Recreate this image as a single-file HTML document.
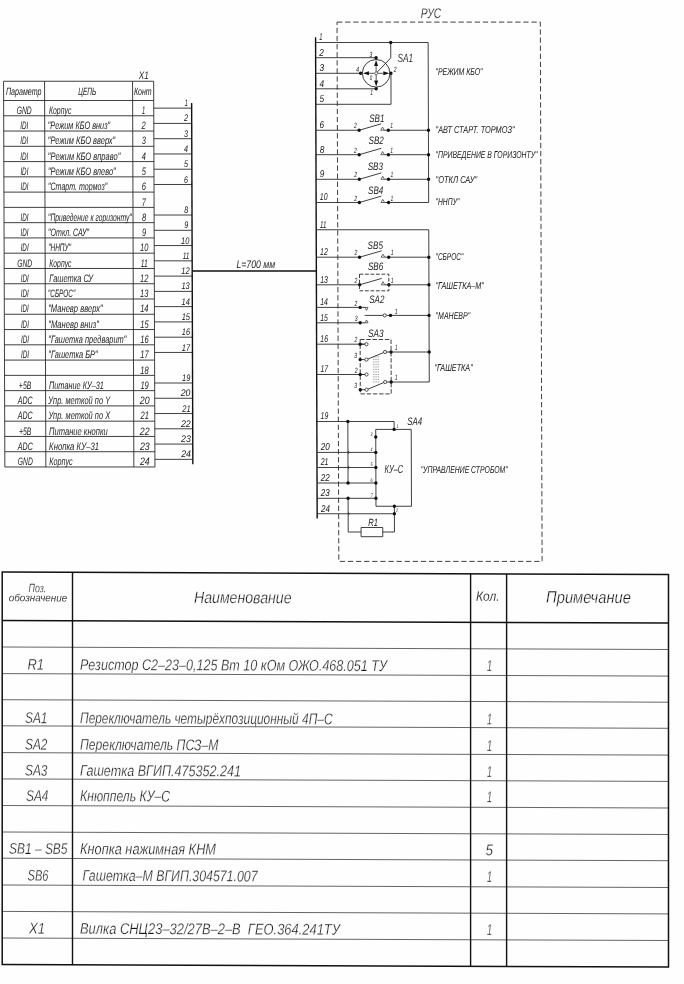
<!DOCTYPE html>
<html><head><meta charset="utf-8"><title>scheme</title>
<style>html,body{margin:0;padding:0;background:#fefefe;}svg{display:block;will-change:transform;filter:grayscale(1)}text{font-family:"Liberation Sans",sans-serif;font-style:italic;white-space:pre;stroke:#fefefe;}</style></head><body>
<svg width="684" height="984" viewBox="0 0 684 984">
<rect x="0" y="0" width="684" height="984" fill="#fefefe"/>
<g transform="skewX(0.19)">
<line x1="3.30" y1="81.25" x2="3.30" y2="466.98" stroke="#2a2a2a" stroke-width="0.9" />
<line x1="44.30" y1="81.25" x2="44.30" y2="466.98" stroke="#2a2a2a" stroke-width="0.9" />
<line x1="132.30" y1="81.25" x2="132.30" y2="466.98" stroke="#2a2a2a" stroke-width="0.9" />
<line x1="153.40" y1="81.25" x2="153.40" y2="466.98" stroke="#2a2a2a" stroke-width="0.9" />
<line x1="3.30" y1="81.25" x2="153.40" y2="81.25" stroke="#2a2a2a" stroke-width="0.9" />
<line x1="3.30" y1="100.50" x2="153.40" y2="100.50" stroke="#2a2a2a" stroke-width="0.9" />
<line x1="3.30" y1="115.77" x2="153.40" y2="115.77" stroke="#2a2a2a" stroke-width="0.9" />
<line x1="3.30" y1="131.04" x2="153.40" y2="131.04" stroke="#2a2a2a" stroke-width="0.9" />
<line x1="3.30" y1="146.31" x2="153.40" y2="146.31" stroke="#2a2a2a" stroke-width="0.9" />
<line x1="3.30" y1="161.58" x2="153.40" y2="161.58" stroke="#2a2a2a" stroke-width="0.9" />
<line x1="3.30" y1="176.85" x2="153.40" y2="176.85" stroke="#2a2a2a" stroke-width="0.9" />
<line x1="3.30" y1="192.12" x2="153.40" y2="192.12" stroke="#2a2a2a" stroke-width="0.9" />
<line x1="3.30" y1="207.39" x2="153.40" y2="207.39" stroke="#2a2a2a" stroke-width="0.9" />
<line x1="3.30" y1="222.66" x2="153.40" y2="222.66" stroke="#2a2a2a" stroke-width="0.9" />
<line x1="3.30" y1="237.93" x2="153.40" y2="237.93" stroke="#2a2a2a" stroke-width="0.9" />
<line x1="3.30" y1="253.20" x2="153.40" y2="253.20" stroke="#2a2a2a" stroke-width="0.9" />
<line x1="3.30" y1="268.47" x2="153.40" y2="268.47" stroke="#2a2a2a" stroke-width="0.9" />
<line x1="3.30" y1="283.74" x2="153.40" y2="283.74" stroke="#2a2a2a" stroke-width="0.9" />
<line x1="3.30" y1="299.01" x2="153.40" y2="299.01" stroke="#2a2a2a" stroke-width="0.9" />
<line x1="3.30" y1="314.28" x2="153.40" y2="314.28" stroke="#2a2a2a" stroke-width="0.9" />
<line x1="3.30" y1="329.55" x2="153.40" y2="329.55" stroke="#2a2a2a" stroke-width="0.9" />
<line x1="3.30" y1="344.82" x2="153.40" y2="344.82" stroke="#2a2a2a" stroke-width="0.9" />
<line x1="3.30" y1="360.09" x2="153.40" y2="360.09" stroke="#2a2a2a" stroke-width="0.9" />
<line x1="3.30" y1="375.36" x2="153.40" y2="375.36" stroke="#2a2a2a" stroke-width="0.9" />
<line x1="3.30" y1="390.63" x2="153.40" y2="390.63" stroke="#2a2a2a" stroke-width="0.9" />
<line x1="3.30" y1="405.90" x2="153.40" y2="405.90" stroke="#2a2a2a" stroke-width="0.9" />
<line x1="3.30" y1="421.17" x2="153.40" y2="421.17" stroke="#2a2a2a" stroke-width="0.9" />
<line x1="3.30" y1="436.44" x2="153.40" y2="436.44" stroke="#2a2a2a" stroke-width="0.9" />
<line x1="3.30" y1="451.71" x2="153.40" y2="451.71" stroke="#2a2a2a" stroke-width="0.9" />
<line x1="3.30" y1="466.98" x2="153.40" y2="466.98" stroke="#2a2a2a" stroke-width="0.9" />
<text x="138.50" y="79.50" font-size="11.0" text-anchor="start" fill="#161616" stroke-width="0.033" textLength="10.00" lengthAdjust="spacingAndGlyphs" >X1</text>
<text x="5.60" y="94.70" font-size="10.6" text-anchor="start" fill="#161616" stroke-width="0.011" textLength="35.60" lengthAdjust="spacingAndGlyphs" >Параметр</text>
<text x="78.00" y="94.70" font-size="10.6" text-anchor="start" fill="#161616" stroke-width="0.011" textLength="18.00" lengthAdjust="spacingAndGlyphs" >ЦЕПЬ</text>
<text x="133.60" y="94.70" font-size="10.6" text-anchor="start" fill="#161616" stroke-width="0.011" textLength="17.80" lengthAdjust="spacingAndGlyphs" >Конт</text>
<text x="23.80" y="113.97" font-size="10.8" text-anchor="middle" fill="#161616" stroke-width="0.022" textLength="15.00" lengthAdjust="spacingAndGlyphs" >GND</text>
<text x="48.60" y="113.97" font-size="10.8" text-anchor="start" fill="#161616" stroke-width="0.022" textLength="22.40" lengthAdjust="spacingAndGlyphs" >Корпус</text>
<text x="143.30" y="113.97" font-size="10.8" text-anchor="middle" fill="#161616" stroke-width="0.022" textLength="3.20" lengthAdjust="spacingAndGlyphs" >1</text>
<text x="23.80" y="129.24" font-size="10.8" text-anchor="middle" fill="#161616" stroke-width="0.022" textLength="8.00" lengthAdjust="spacingAndGlyphs" >IDI</text>
<text x="47.30" y="129.24" font-size="10.8" text-anchor="start" fill="#161616" stroke-width="0.022" textLength="62.50" lengthAdjust="spacingAndGlyphs" >"Режим КБО вниз"</text>
<text x="143.30" y="129.24" font-size="10.8" text-anchor="middle" fill="#161616" stroke-width="0.022" textLength="4.20" lengthAdjust="spacingAndGlyphs" >2</text>
<text x="23.80" y="144.51" font-size="10.8" text-anchor="middle" fill="#161616" stroke-width="0.022" textLength="8.00" lengthAdjust="spacingAndGlyphs" >IDI</text>
<text x="47.30" y="144.51" font-size="10.8" text-anchor="start" fill="#161616" stroke-width="0.022" textLength="67.50" lengthAdjust="spacingAndGlyphs" >"Режим КБО вверх"</text>
<text x="143.30" y="144.51" font-size="10.8" text-anchor="middle" fill="#161616" stroke-width="0.022" textLength="4.20" lengthAdjust="spacingAndGlyphs" >3</text>
<text x="23.80" y="159.78" font-size="10.8" text-anchor="middle" fill="#161616" stroke-width="0.022" textLength="8.00" lengthAdjust="spacingAndGlyphs" >IDI</text>
<text x="47.30" y="159.78" font-size="10.8" text-anchor="start" fill="#161616" stroke-width="0.022" textLength="72.50" lengthAdjust="spacingAndGlyphs" >"Режим КБО вправо"</text>
<text x="143.30" y="159.78" font-size="10.8" text-anchor="middle" fill="#161616" stroke-width="0.022" textLength="4.20" lengthAdjust="spacingAndGlyphs" >4</text>
<text x="23.80" y="175.05" font-size="10.8" text-anchor="middle" fill="#161616" stroke-width="0.022" textLength="8.00" lengthAdjust="spacingAndGlyphs" >IDI</text>
<text x="47.30" y="175.05" font-size="10.8" text-anchor="start" fill="#161616" stroke-width="0.022" textLength="67.90" lengthAdjust="spacingAndGlyphs" >"Режим КБО влево"</text>
<text x="143.30" y="175.05" font-size="10.8" text-anchor="middle" fill="#161616" stroke-width="0.022" textLength="4.20" lengthAdjust="spacingAndGlyphs" >5</text>
<text x="23.80" y="190.32" font-size="10.8" text-anchor="middle" fill="#161616" stroke-width="0.022" textLength="8.00" lengthAdjust="spacingAndGlyphs" >IDI</text>
<text x="47.30" y="190.32" font-size="10.8" text-anchor="start" fill="#161616" stroke-width="0.022" textLength="59.30" lengthAdjust="spacingAndGlyphs" >"Старт. тормоз"</text>
<text x="143.30" y="190.32" font-size="10.8" text-anchor="middle" fill="#161616" stroke-width="0.022" textLength="4.20" lengthAdjust="spacingAndGlyphs" >6</text>
<text x="143.30" y="205.59" font-size="10.8" text-anchor="middle" fill="#161616" stroke-width="0.022" textLength="4.20" lengthAdjust="spacingAndGlyphs" >7</text>
<text x="23.80" y="220.86" font-size="10.8" text-anchor="middle" fill="#161616" stroke-width="0.022" textLength="8.00" lengthAdjust="spacingAndGlyphs" >IDI</text>
<text x="47.30" y="220.86" font-size="10.8" text-anchor="start" fill="#161616" stroke-width="0.022" textLength="83.70" lengthAdjust="spacingAndGlyphs" >"Приведение к горизонту"</text>
<text x="143.30" y="220.86" font-size="10.8" text-anchor="middle" fill="#161616" stroke-width="0.022" textLength="4.20" lengthAdjust="spacingAndGlyphs" >8</text>
<text x="23.80" y="236.13" font-size="10.8" text-anchor="middle" fill="#161616" stroke-width="0.022" textLength="8.00" lengthAdjust="spacingAndGlyphs" >IDI</text>
<text x="47.30" y="236.13" font-size="10.8" text-anchor="start" fill="#161616" stroke-width="0.022" textLength="40.90" lengthAdjust="spacingAndGlyphs" >"Откл. САУ"</text>
<text x="143.30" y="236.13" font-size="10.8" text-anchor="middle" fill="#161616" stroke-width="0.022" textLength="4.20" lengthAdjust="spacingAndGlyphs" >9</text>
<text x="23.80" y="251.40" font-size="10.8" text-anchor="middle" fill="#161616" stroke-width="0.022" textLength="8.00" lengthAdjust="spacingAndGlyphs" >IDI</text>
<text x="47.30" y="251.40" font-size="10.8" text-anchor="start" fill="#161616" stroke-width="0.022" textLength="22.90" lengthAdjust="spacingAndGlyphs" >"ННПУ"</text>
<text x="143.30" y="251.40" font-size="10.8" text-anchor="middle" fill="#161616" stroke-width="0.022" textLength="8.40" lengthAdjust="spacingAndGlyphs" >10</text>
<text x="23.80" y="266.67" font-size="10.8" text-anchor="middle" fill="#161616" stroke-width="0.022" textLength="15.00" lengthAdjust="spacingAndGlyphs" >GND</text>
<text x="48.40" y="266.67" font-size="10.8" text-anchor="start" fill="#161616" stroke-width="0.022" textLength="22.20" lengthAdjust="spacingAndGlyphs" >Корпус</text>
<text x="143.30" y="266.67" font-size="10.8" text-anchor="middle" fill="#161616" stroke-width="0.022" textLength="7.00" lengthAdjust="spacingAndGlyphs" >11</text>
<text x="23.80" y="281.94" font-size="10.8" text-anchor="middle" fill="#161616" stroke-width="0.022" textLength="8.00" lengthAdjust="spacingAndGlyphs" >IDI</text>
<text x="48.40" y="281.94" font-size="10.8" text-anchor="start" fill="#161616" stroke-width="0.022" textLength="43.80" lengthAdjust="spacingAndGlyphs" >Гашетка СУ</text>
<text x="143.30" y="281.94" font-size="10.8" text-anchor="middle" fill="#161616" stroke-width="0.022" textLength="8.40" lengthAdjust="spacingAndGlyphs" >12</text>
<text x="23.80" y="297.21" font-size="10.8" text-anchor="middle" fill="#161616" stroke-width="0.022" textLength="8.00" lengthAdjust="spacingAndGlyphs" >IDI</text>
<text x="47.00" y="297.21" font-size="10.8" text-anchor="start" fill="#161616" stroke-width="0.022" textLength="27.20" lengthAdjust="spacingAndGlyphs" >"СБРОС"</text>
<text x="143.30" y="297.21" font-size="10.8" text-anchor="middle" fill="#161616" stroke-width="0.022" textLength="8.40" lengthAdjust="spacingAndGlyphs" >13</text>
<text x="23.80" y="312.48" font-size="10.8" text-anchor="middle" fill="#161616" stroke-width="0.022" textLength="8.00" lengthAdjust="spacingAndGlyphs" >IDI</text>
<text x="47.10" y="312.48" font-size="10.8" text-anchor="start" fill="#161616" stroke-width="0.022" textLength="54.50" lengthAdjust="spacingAndGlyphs" >"Маневр вверх"</text>
<text x="143.30" y="312.48" font-size="10.8" text-anchor="middle" fill="#161616" stroke-width="0.022" textLength="8.40" lengthAdjust="spacingAndGlyphs" >14</text>
<text x="23.80" y="327.75" font-size="10.8" text-anchor="middle" fill="#161616" stroke-width="0.022" textLength="8.00" lengthAdjust="spacingAndGlyphs" >IDI</text>
<text x="47.10" y="327.75" font-size="10.8" text-anchor="start" fill="#161616" stroke-width="0.022" textLength="50.70" lengthAdjust="spacingAndGlyphs" >"Маневр вниз"</text>
<text x="143.30" y="327.75" font-size="10.8" text-anchor="middle" fill="#161616" stroke-width="0.022" textLength="8.40" lengthAdjust="spacingAndGlyphs" >15</text>
<text x="23.80" y="343.02" font-size="10.8" text-anchor="middle" fill="#161616" stroke-width="0.022" textLength="8.00" lengthAdjust="spacingAndGlyphs" >IDI</text>
<text x="47.10" y="343.02" font-size="10.8" text-anchor="start" fill="#161616" stroke-width="0.022" textLength="78.20" lengthAdjust="spacingAndGlyphs" >"Гашетка предварит"</text>
<text x="143.30" y="343.02" font-size="10.8" text-anchor="middle" fill="#161616" stroke-width="0.022" textLength="8.40" lengthAdjust="spacingAndGlyphs" >16</text>
<text x="23.80" y="358.29" font-size="10.8" text-anchor="middle" fill="#161616" stroke-width="0.022" textLength="8.00" lengthAdjust="spacingAndGlyphs" >IDI</text>
<text x="47.10" y="358.29" font-size="10.8" text-anchor="start" fill="#161616" stroke-width="0.022" textLength="49.40" lengthAdjust="spacingAndGlyphs" >"Гашетка БР"</text>
<text x="143.30" y="358.29" font-size="10.8" text-anchor="middle" fill="#161616" stroke-width="0.022" textLength="8.40" lengthAdjust="spacingAndGlyphs" >17</text>
<text x="143.30" y="373.56" font-size="10.8" text-anchor="middle" fill="#161616" stroke-width="0.022" textLength="8.40" lengthAdjust="spacingAndGlyphs" >18</text>
<text x="23.80" y="388.83" font-size="10.8" text-anchor="middle" fill="#161616" stroke-width="0.022" textLength="12.50" lengthAdjust="spacingAndGlyphs" >+5В</text>
<text x="47.70" y="388.83" font-size="10.8" text-anchor="start" fill="#161616" stroke-width="0.022" textLength="54.90" lengthAdjust="spacingAndGlyphs" >Питание КУ–31</text>
<text x="143.30" y="388.83" font-size="10.8" text-anchor="middle" fill="#161616" stroke-width="0.022" textLength="8.40" lengthAdjust="spacingAndGlyphs" >19</text>
<text x="23.80" y="404.10" font-size="10.8" text-anchor="middle" fill="#161616" stroke-width="0.022" textLength="15.00" lengthAdjust="spacingAndGlyphs" >ADC</text>
<text x="47.00" y="404.10" font-size="10.8" text-anchor="start" fill="#161616" stroke-width="0.022" textLength="61.80" lengthAdjust="spacingAndGlyphs" >Упр. меткой по Y</text>
<text x="143.30" y="404.10" font-size="10.8" text-anchor="middle" fill="#161616" stroke-width="0.022" textLength="9.80" lengthAdjust="spacingAndGlyphs" >20</text>
<text x="23.80" y="419.37" font-size="10.8" text-anchor="middle" fill="#161616" stroke-width="0.022" textLength="15.00" lengthAdjust="spacingAndGlyphs" >ADC</text>
<text x="47.00" y="419.37" font-size="10.8" text-anchor="start" fill="#161616" stroke-width="0.022" textLength="61.80" lengthAdjust="spacingAndGlyphs" >Упр. меткой по Х</text>
<text x="143.30" y="419.37" font-size="10.8" text-anchor="middle" fill="#161616" stroke-width="0.022" textLength="8.40" lengthAdjust="spacingAndGlyphs" >21</text>
<text x="23.80" y="434.64" font-size="10.8" text-anchor="middle" fill="#161616" stroke-width="0.022" textLength="12.50" lengthAdjust="spacingAndGlyphs" >+5В</text>
<text x="47.60" y="434.64" font-size="10.8" text-anchor="start" fill="#161616" stroke-width="0.022" textLength="58.70" lengthAdjust="spacingAndGlyphs" >Питание кнопки</text>
<text x="143.30" y="434.64" font-size="10.8" text-anchor="middle" fill="#161616" stroke-width="0.022" textLength="9.80" lengthAdjust="spacingAndGlyphs" >22</text>
<text x="23.80" y="449.91" font-size="10.8" text-anchor="middle" fill="#161616" stroke-width="0.022" textLength="15.00" lengthAdjust="spacingAndGlyphs" >ADC</text>
<text x="47.60" y="449.91" font-size="10.8" text-anchor="start" fill="#161616" stroke-width="0.022" textLength="49.90" lengthAdjust="spacingAndGlyphs" >Кнопка КУ–31</text>
<text x="143.30" y="449.91" font-size="10.8" text-anchor="middle" fill="#161616" stroke-width="0.022" textLength="9.80" lengthAdjust="spacingAndGlyphs" >23</text>
<text x="23.80" y="465.18" font-size="10.8" text-anchor="middle" fill="#161616" stroke-width="0.022" textLength="15.00" lengthAdjust="spacingAndGlyphs" >GND</text>
<text x="47.60" y="465.18" font-size="10.8" text-anchor="start" fill="#161616" stroke-width="0.022" textLength="23.60" lengthAdjust="spacingAndGlyphs" >Корпус</text>
<text x="143.30" y="465.18" font-size="10.8" text-anchor="middle" fill="#161616" stroke-width="0.022" textLength="9.80" lengthAdjust="spacingAndGlyphs" >24</text>
<line x1="153.40" y1="108.13" x2="191.30" y2="108.13" stroke="#2a2a2a" stroke-width="0.9" />
<text x="187.50" y="106.23" font-size="9.6" text-anchor="end" fill="#161616" stroke-width="0.000" textLength="3.00" lengthAdjust="spacingAndGlyphs" >1</text>
<line x1="153.40" y1="123.40" x2="191.30" y2="123.40" stroke="#2a2a2a" stroke-width="0.9" />
<text x="187.50" y="121.50" font-size="9.6" text-anchor="end" fill="#161616" stroke-width="0.000" textLength="4.00" lengthAdjust="spacingAndGlyphs" >2</text>
<line x1="153.40" y1="138.68" x2="191.30" y2="138.68" stroke="#2a2a2a" stroke-width="0.9" />
<text x="187.50" y="136.78" font-size="9.6" text-anchor="end" fill="#161616" stroke-width="0.000" textLength="4.00" lengthAdjust="spacingAndGlyphs" >3</text>
<line x1="153.40" y1="153.94" x2="191.30" y2="153.94" stroke="#2a2a2a" stroke-width="0.9" />
<text x="187.50" y="152.04" font-size="9.6" text-anchor="end" fill="#161616" stroke-width="0.000" textLength="4.00" lengthAdjust="spacingAndGlyphs" >4</text>
<line x1="153.40" y1="169.22" x2="191.30" y2="169.22" stroke="#2a2a2a" stroke-width="0.9" />
<text x="187.50" y="167.31" font-size="9.6" text-anchor="end" fill="#161616" stroke-width="0.000" textLength="4.00" lengthAdjust="spacingAndGlyphs" >5</text>
<line x1="153.40" y1="184.49" x2="191.30" y2="184.49" stroke="#2a2a2a" stroke-width="0.9" />
<text x="187.50" y="182.59" font-size="9.6" text-anchor="end" fill="#161616" stroke-width="0.000" textLength="4.00" lengthAdjust="spacingAndGlyphs" >6</text>
<line x1="153.40" y1="215.03" x2="191.30" y2="215.03" stroke="#2a2a2a" stroke-width="0.9" />
<text x="187.50" y="213.12" font-size="9.6" text-anchor="end" fill="#161616" stroke-width="0.000" textLength="4.00" lengthAdjust="spacingAndGlyphs" >8</text>
<line x1="153.40" y1="230.30" x2="191.30" y2="230.30" stroke="#2a2a2a" stroke-width="0.9" />
<text x="187.50" y="228.40" font-size="9.6" text-anchor="end" fill="#161616" stroke-width="0.000" textLength="4.00" lengthAdjust="spacingAndGlyphs" >9</text>
<line x1="153.40" y1="245.56" x2="191.30" y2="245.56" stroke="#2a2a2a" stroke-width="0.9" />
<text x="188.58" y="243.66" font-size="9.6" text-anchor="end" fill="#161616" stroke-width="0.000" textLength="8.30" lengthAdjust="spacingAndGlyphs" >10</text>
<line x1="153.40" y1="260.84" x2="191.30" y2="260.84" stroke="#2a2a2a" stroke-width="0.9" />
<text x="188.64" y="258.94" font-size="9.6" text-anchor="end" fill="#161616" stroke-width="0.000" textLength="6.80" lengthAdjust="spacingAndGlyphs" >11</text>
<line x1="153.40" y1="276.11" x2="191.30" y2="276.11" stroke="#2a2a2a" stroke-width="0.9" />
<text x="188.70" y="274.21" font-size="9.6" text-anchor="end" fill="#161616" stroke-width="0.000" textLength="8.30" lengthAdjust="spacingAndGlyphs" >12</text>
<line x1="153.40" y1="291.38" x2="191.30" y2="291.38" stroke="#2a2a2a" stroke-width="0.9" />
<text x="188.77" y="289.48" font-size="9.6" text-anchor="end" fill="#161616" stroke-width="0.000" textLength="8.30" lengthAdjust="spacingAndGlyphs" >13</text>
<line x1="153.40" y1="306.64" x2="191.30" y2="306.64" stroke="#2a2a2a" stroke-width="0.9" />
<text x="188.83" y="304.75" font-size="9.6" text-anchor="end" fill="#161616" stroke-width="0.000" textLength="8.30" lengthAdjust="spacingAndGlyphs" >14</text>
<line x1="153.40" y1="321.91" x2="191.30" y2="321.91" stroke="#2a2a2a" stroke-width="0.9" />
<text x="188.89" y="320.01" font-size="9.6" text-anchor="end" fill="#161616" stroke-width="0.000" textLength="8.30" lengthAdjust="spacingAndGlyphs" >15</text>
<line x1="153.40" y1="337.19" x2="191.30" y2="337.19" stroke="#2a2a2a" stroke-width="0.9" />
<text x="188.95" y="335.29" font-size="9.6" text-anchor="end" fill="#161616" stroke-width="0.000" textLength="8.30" lengthAdjust="spacingAndGlyphs" >16</text>
<line x1="153.40" y1="352.45" x2="191.30" y2="352.45" stroke="#2a2a2a" stroke-width="0.9" />
<text x="189.01" y="350.56" font-size="9.6" text-anchor="end" fill="#161616" stroke-width="0.000" textLength="8.30" lengthAdjust="spacingAndGlyphs" >17</text>
<line x1="153.40" y1="383.00" x2="191.30" y2="383.00" stroke="#2a2a2a" stroke-width="0.9" />
<text x="189.13" y="381.10" font-size="9.6" text-anchor="end" fill="#161616" stroke-width="0.000" textLength="8.30" lengthAdjust="spacingAndGlyphs" >19</text>
<line x1="153.40" y1="398.26" x2="191.30" y2="398.26" stroke="#2a2a2a" stroke-width="0.9" />
<text x="189.19" y="396.37" font-size="9.6" text-anchor="end" fill="#161616" stroke-width="0.000" textLength="9.80" lengthAdjust="spacingAndGlyphs" >20</text>
<line x1="153.40" y1="413.54" x2="191.30" y2="413.54" stroke="#2a2a2a" stroke-width="0.9" />
<text x="189.25" y="411.64" font-size="9.6" text-anchor="end" fill="#161616" stroke-width="0.000" textLength="8.30" lengthAdjust="spacingAndGlyphs" >21</text>
<line x1="153.40" y1="428.81" x2="191.30" y2="428.81" stroke="#2a2a2a" stroke-width="0.9" />
<text x="189.32" y="426.91" font-size="9.6" text-anchor="end" fill="#161616" stroke-width="0.000" textLength="9.80" lengthAdjust="spacingAndGlyphs" >22</text>
<line x1="153.40" y1="444.07" x2="191.30" y2="444.07" stroke="#2a2a2a" stroke-width="0.9" />
<text x="189.38" y="442.18" font-size="9.6" text-anchor="end" fill="#161616" stroke-width="0.000" textLength="9.80" lengthAdjust="spacingAndGlyphs" >23</text>
<line x1="153.40" y1="459.35" x2="191.30" y2="459.35" stroke="#2a2a2a" stroke-width="0.9" />
<text x="189.44" y="457.45" font-size="9.6" text-anchor="end" fill="#161616" stroke-width="0.000" textLength="9.80" lengthAdjust="spacingAndGlyphs" >24</text>
<line x1="191.30" y1="103.00" x2="191.30" y2="464.30" stroke="#111" stroke-width="1.4" />
<line x1="191.30" y1="271.00" x2="315.45" y2="271.00" stroke="#111" stroke-width="1.4" />
<text x="235.50" y="268.30" font-size="11.0" text-anchor="start" fill="#161616" stroke-width="0.033" textLength="38.90" lengthAdjust="spacingAndGlyphs" >L=700 мм</text>
<line x1="315.45" y1="37.30" x2="315.45" y2="518.60" stroke="#111" stroke-width="1.4" />
<rect x="336.95" y="22.1" width="203.30" height="539.30" fill="none" stroke="#2a2a2a" stroke-width="0.9" stroke-dasharray="5.3 2.8"/>
<text x="420.80" y="18.20" font-size="14.0" text-anchor="start" fill="#161616" stroke-width="0.198" textLength="20.40" lengthAdjust="spacingAndGlyphs" >РУС</text>
<text x="319.20" y="40.40" font-size="10.0" text-anchor="start" fill="#161616" stroke-width="0.000" textLength="3.20" lengthAdjust="spacingAndGlyphs" >1</text>
<text x="319.20" y="55.60" font-size="10.0" text-anchor="start" fill="#161616" stroke-width="0.000" textLength="4.60" lengthAdjust="spacingAndGlyphs" >2</text>
<text x="319.20" y="71.20" font-size="10.0" text-anchor="start" fill="#161616" stroke-width="0.000" textLength="4.60" lengthAdjust="spacingAndGlyphs" >3</text>
<text x="319.20" y="86.70" font-size="10.0" text-anchor="start" fill="#161616" stroke-width="0.000" textLength="4.60" lengthAdjust="spacingAndGlyphs" >4</text>
<text x="319.20" y="102.20" font-size="10.0" text-anchor="start" fill="#161616" stroke-width="0.000" textLength="4.60" lengthAdjust="spacingAndGlyphs" >5</text>
<text x="319.20" y="128.15" font-size="10.0" text-anchor="start" fill="#161616" stroke-width="0.000" textLength="4.60" lengthAdjust="spacingAndGlyphs" >6</text>
<text x="319.20" y="152.60" font-size="10.0" text-anchor="start" fill="#161616" stroke-width="0.000" textLength="4.60" lengthAdjust="spacingAndGlyphs" >8</text>
<text x="319.20" y="177.20" font-size="10.0" text-anchor="start" fill="#161616" stroke-width="0.000" textLength="4.60" lengthAdjust="spacingAndGlyphs" >9</text>
<text x="319.20" y="200.40" font-size="10.0" text-anchor="start" fill="#161616" stroke-width="0.000" textLength="7.70" lengthAdjust="spacingAndGlyphs" >10</text>
<text x="319.20" y="227.65" font-size="10.0" text-anchor="start" fill="#161616" stroke-width="0.000" textLength="6.40" lengthAdjust="spacingAndGlyphs" >11</text>
<text x="319.20" y="255.10" font-size="10.0" text-anchor="start" fill="#161616" stroke-width="0.000" textLength="7.70" lengthAdjust="spacingAndGlyphs" >12</text>
<text x="319.20" y="282.70" font-size="10.0" text-anchor="start" fill="#161616" stroke-width="0.000" textLength="7.70" lengthAdjust="spacingAndGlyphs" >13</text>
<text x="319.20" y="305.30" font-size="10.0" text-anchor="start" fill="#161616" stroke-width="0.000" textLength="7.70" lengthAdjust="spacingAndGlyphs" >14</text>
<text x="319.20" y="320.70" font-size="10.0" text-anchor="start" fill="#161616" stroke-width="0.000" textLength="7.70" lengthAdjust="spacingAndGlyphs" >15</text>
<text x="319.20" y="342.10" font-size="10.0" text-anchor="start" fill="#161616" stroke-width="0.000" textLength="7.70" lengthAdjust="spacingAndGlyphs" >16</text>
<text x="319.20" y="372.40" font-size="10.0" text-anchor="start" fill="#161616" stroke-width="0.000" textLength="7.70" lengthAdjust="spacingAndGlyphs" >17</text>
<text x="319.20" y="419.40" font-size="10.0" text-anchor="start" fill="#161616" stroke-width="0.000" textLength="7.70" lengthAdjust="spacingAndGlyphs" >19</text>
<text x="319.20" y="450.30" font-size="10.0" text-anchor="start" fill="#161616" stroke-width="0.000" textLength="9.00" lengthAdjust="spacingAndGlyphs" >20</text>
<text x="319.20" y="465.40" font-size="10.0" text-anchor="start" fill="#161616" stroke-width="0.000" textLength="7.70" lengthAdjust="spacingAndGlyphs" >21</text>
<text x="319.20" y="480.90" font-size="10.0" text-anchor="start" fill="#161616" stroke-width="0.000" textLength="9.00" lengthAdjust="spacingAndGlyphs" >22</text>
<text x="319.20" y="496.20" font-size="10.0" text-anchor="start" fill="#161616" stroke-width="0.000" textLength="9.00" lengthAdjust="spacingAndGlyphs" >23</text>
<text x="319.20" y="511.65" font-size="10.0" text-anchor="start" fill="#161616" stroke-width="0.000" textLength="9.00" lengthAdjust="spacingAndGlyphs" >24</text>
<line x1="315.45" y1="42.50" x2="428.00" y2="42.50" stroke="#2a2a2a" stroke-width="0.9" />
<line x1="428.00" y1="42.50" x2="428.00" y2="202.50" stroke="#2a2a2a" stroke-width="0.9" />
<line x1="315.45" y1="57.70" x2="375.90" y2="57.70" stroke="#2a2a2a" stroke-width="0.9" />
<line x1="315.45" y1="73.30" x2="360.40" y2="73.30" stroke="#2a2a2a" stroke-width="0.9" />
<line x1="315.45" y1="88.80" x2="375.90" y2="88.80" stroke="#2a2a2a" stroke-width="0.9" />
<polyline points="315.45,104.30 390.70,104.30 390.70,73.30" fill="none" stroke="#2a2a2a" stroke-width="0.9" />
<circle cx="375.9" cy="73.3" r="13.8" fill="none" stroke="#2a2a2a" stroke-width="0.9"/>
<polyline points="390.60,42.50 390.60,57.80 375.90,73.30" fill="none" stroke="#2a2a2a" stroke-width="0.9" />
<line x1="375.90" y1="71.80" x2="375.90" y2="66.10" stroke="#2a2a2a" stroke-width="0.8" />
<polygon points="375.90,60.10 377.90,66.10 373.90,66.10" fill="#111"/>
<line x1="375.90" y1="74.80" x2="375.90" y2="80.50" stroke="#2a2a2a" stroke-width="0.8" />
<polygon points="375.90,86.50 373.90,80.50 377.90,80.50" fill="#111"/>
<line x1="374.40" y1="73.30" x2="368.70" y2="73.30" stroke="#2a2a2a" stroke-width="0.8" />
<polygon points="362.70,73.30 368.70,71.30 368.70,75.30" fill="#111"/>
<line x1="377.40" y1="73.30" x2="383.10" y2="73.30" stroke="#2a2a2a" stroke-width="0.8" />
<polygon points="389.10,73.30 383.10,75.30 383.10,71.30" fill="#111"/>
<circle cx="375.90" cy="73.30" r="1.5" fill="#fff" stroke="#2a2a2a" stroke-width="0.7"/>
<circle cx="390.60" cy="42.50" r="1.7" fill="#111"/>
<circle cx="375.90" cy="57.70" r="1.7" fill="#111"/>
<circle cx="360.40" cy="73.30" r="1.7" fill="#111"/>
<circle cx="390.70" cy="73.30" r="1.7" fill="#111"/>
<circle cx="375.90" cy="88.80" r="1.7" fill="#111"/>
<text x="369.40" y="57.20" font-size="7.6" text-anchor="start" fill="#161616" stroke-width="0.000" textLength="2.80" lengthAdjust="spacingAndGlyphs" >3</text>
<text x="356.00" y="71.80" font-size="7.6" text-anchor="start" fill="#161616" stroke-width="0.000" textLength="2.80" lengthAdjust="spacingAndGlyphs" >4</text>
<text x="393.60" y="72.40" font-size="7.6" text-anchor="start" fill="#161616" stroke-width="0.000" textLength="2.80" lengthAdjust="spacingAndGlyphs" >2</text>
<text x="370.00" y="95.00" font-size="7.6" text-anchor="start" fill="#161616" stroke-width="0.000" textLength="2.80" lengthAdjust="spacingAndGlyphs" >1</text>
<text x="369.60" y="79.60" font-size="6.8" text-anchor="start" fill="#161616" stroke-width="0.000" textLength="2.50" lengthAdjust="spacingAndGlyphs" >0</text>
<text x="397.20" y="61.70" font-size="11.9" text-anchor="start" fill="#161616" stroke-width="0.083" textLength="15.70" lengthAdjust="spacingAndGlyphs" >SA1</text>
<line x1="315.45" y1="130.25" x2="358.70" y2="130.25" stroke="#2a2a2a" stroke-width="0.9" />
<line x1="358.70" y1="130.25" x2="380.80" y2="123.85" stroke="#2a2a2a" stroke-width="0.9" />
<polyline points="380.30,130.25 382.10,127.15 383.90,130.25 380.30,130.25" fill="none" stroke="#2a2a2a" stroke-width="0.7" />
<line x1="383.90" y1="130.25" x2="428.00" y2="130.25" stroke="#2a2a2a" stroke-width="0.9" />
<circle cx="358.70" cy="130.25" r="1.7" fill="#111"/>
<circle cx="387.90" cy="130.25" r="1.7" fill="#111"/>
<circle cx="428.00" cy="130.25" r="1.7" fill="#111"/>
<text x="353.60" y="128.45" font-size="7.6" text-anchor="start" fill="#161616" stroke-width="0.000" textLength="2.80" lengthAdjust="spacingAndGlyphs" >2</text>
<text x="389.80" y="128.45" font-size="7.6" text-anchor="start" fill="#161616" stroke-width="0.000" textLength="2.80" lengthAdjust="spacingAndGlyphs" >1</text>
<text x="368.80" y="121.90" font-size="10.9" text-anchor="start" fill="#161616" stroke-width="0.028" textLength="15.30" lengthAdjust="spacingAndGlyphs" >SB1</text>
<line x1="315.45" y1="154.70" x2="358.70" y2="154.70" stroke="#2a2a2a" stroke-width="0.9" />
<line x1="358.70" y1="154.70" x2="380.80" y2="148.30" stroke="#2a2a2a" stroke-width="0.9" />
<polyline points="380.30,154.70 382.10,151.60 383.90,154.70 380.30,154.70" fill="none" stroke="#2a2a2a" stroke-width="0.7" />
<line x1="383.90" y1="154.70" x2="428.00" y2="154.70" stroke="#2a2a2a" stroke-width="0.9" />
<circle cx="358.70" cy="154.70" r="1.7" fill="#111"/>
<circle cx="387.90" cy="154.70" r="1.7" fill="#111"/>
<circle cx="428.00" cy="154.70" r="1.7" fill="#111"/>
<text x="353.60" y="152.90" font-size="7.6" text-anchor="start" fill="#161616" stroke-width="0.000" textLength="2.80" lengthAdjust="spacingAndGlyphs" >2</text>
<text x="389.80" y="152.90" font-size="7.6" text-anchor="start" fill="#161616" stroke-width="0.000" textLength="2.80" lengthAdjust="spacingAndGlyphs" >1</text>
<text x="368.10" y="144.50" font-size="10.9" text-anchor="start" fill="#161616" stroke-width="0.028" textLength="15.30" lengthAdjust="spacingAndGlyphs" >SB2</text>
<line x1="315.45" y1="179.30" x2="358.70" y2="179.30" stroke="#2a2a2a" stroke-width="0.9" />
<line x1="358.70" y1="179.30" x2="380.80" y2="172.90" stroke="#2a2a2a" stroke-width="0.9" />
<polyline points="380.30,179.30 382.10,176.20 383.90,179.30 380.30,179.30" fill="none" stroke="#2a2a2a" stroke-width="0.7" />
<line x1="383.90" y1="179.30" x2="428.00" y2="179.30" stroke="#2a2a2a" stroke-width="0.9" />
<circle cx="358.70" cy="179.30" r="1.7" fill="#111"/>
<circle cx="387.90" cy="179.30" r="1.7" fill="#111"/>
<circle cx="428.00" cy="179.30" r="1.7" fill="#111"/>
<text x="353.60" y="177.50" font-size="7.6" text-anchor="start" fill="#161616" stroke-width="0.000" textLength="2.80" lengthAdjust="spacingAndGlyphs" >2</text>
<text x="389.80" y="177.50" font-size="7.6" text-anchor="start" fill="#161616" stroke-width="0.000" textLength="2.80" lengthAdjust="spacingAndGlyphs" >1</text>
<text x="367.10" y="170.10" font-size="10.9" text-anchor="start" fill="#161616" stroke-width="0.028" textLength="15.30" lengthAdjust="spacingAndGlyphs" >SB3</text>
<line x1="315.45" y1="202.50" x2="358.70" y2="202.50" stroke="#2a2a2a" stroke-width="0.9" />
<line x1="358.70" y1="202.50" x2="380.80" y2="196.10" stroke="#2a2a2a" stroke-width="0.9" />
<polyline points="380.30,202.50 382.10,199.40 383.90,202.50 380.30,202.50" fill="none" stroke="#2a2a2a" stroke-width="0.7" />
<line x1="383.90" y1="202.50" x2="428.00" y2="202.50" stroke="#2a2a2a" stroke-width="0.9" />
<circle cx="358.70" cy="202.50" r="1.7" fill="#111"/>
<circle cx="387.90" cy="202.50" r="1.7" fill="#111"/>
<text x="353.60" y="200.70" font-size="7.6" text-anchor="start" fill="#161616" stroke-width="0.000" textLength="2.80" lengthAdjust="spacingAndGlyphs" >2</text>
<text x="389.80" y="200.70" font-size="7.6" text-anchor="start" fill="#161616" stroke-width="0.000" textLength="2.80" lengthAdjust="spacingAndGlyphs" >1</text>
<text x="367.40" y="193.75" font-size="10.9" text-anchor="start" fill="#161616" stroke-width="0.028" textLength="15.30" lengthAdjust="spacingAndGlyphs" >SB4</text>
<polyline points="315.45,229.75 428.00,229.75 428.00,382.00 389.90,382.00" fill="none" stroke="#2a2a2a" stroke-width="0.9" />
<line x1="315.45" y1="257.20" x2="358.70" y2="257.20" stroke="#2a2a2a" stroke-width="0.9" />
<line x1="358.70" y1="257.20" x2="380.80" y2="250.80" stroke="#2a2a2a" stroke-width="0.9" />
<polyline points="380.30,257.20 382.10,254.10 383.90,257.20 380.30,257.20" fill="none" stroke="#2a2a2a" stroke-width="0.7" />
<line x1="383.90" y1="257.20" x2="428.00" y2="257.20" stroke="#2a2a2a" stroke-width="0.9" />
<circle cx="358.70" cy="257.20" r="1.7" fill="#111"/>
<circle cx="387.90" cy="257.20" r="1.7" fill="#111"/>
<circle cx="428.00" cy="257.20" r="1.7" fill="#111"/>
<text x="353.60" y="255.40" font-size="7.6" text-anchor="start" fill="#161616" stroke-width="0.000" textLength="2.80" lengthAdjust="spacingAndGlyphs" >2</text>
<text x="389.80" y="255.40" font-size="7.6" text-anchor="start" fill="#161616" stroke-width="0.000" textLength="2.80" lengthAdjust="spacingAndGlyphs" >1</text>
<text x="366.80" y="248.90" font-size="10.9" text-anchor="start" fill="#161616" stroke-width="0.028" textLength="15.30" lengthAdjust="spacingAndGlyphs" >SB5</text>
<line x1="315.45" y1="284.80" x2="358.70" y2="284.80" stroke="#2a2a2a" stroke-width="0.9" />
<line x1="358.70" y1="284.80" x2="380.80" y2="278.40" stroke="#2a2a2a" stroke-width="0.9" />
<polyline points="380.30,284.80 382.10,281.70 383.90,284.80 380.30,284.80" fill="none" stroke="#2a2a2a" stroke-width="0.7" />
<line x1="383.90" y1="284.80" x2="428.00" y2="284.80" stroke="#2a2a2a" stroke-width="0.9" />
<circle cx="358.70" cy="284.80" r="1.7" fill="#111"/>
<circle cx="387.90" cy="284.80" r="1.7" fill="#111"/>
<circle cx="428.00" cy="284.80" r="1.7" fill="#111"/>
<text x="353.60" y="283.00" font-size="7.6" text-anchor="start" fill="#161616" stroke-width="0.000" textLength="2.80" lengthAdjust="spacingAndGlyphs" >2</text>
<text x="389.80" y="283.00" font-size="7.6" text-anchor="start" fill="#161616" stroke-width="0.000" textLength="2.80" lengthAdjust="spacingAndGlyphs" >1</text>
<text x="367.00" y="270.50" font-size="10.9" text-anchor="start" fill="#161616" stroke-width="0.028" textLength="15.30" lengthAdjust="spacingAndGlyphs" >SB6</text>
<rect x="358.6" y="274.2" width="29.3" height="16.6" fill="none" stroke="#2a2a2a" stroke-width="0.9" stroke-dasharray="3.8 1.7"/>
<line x1="315.45" y1="307.40" x2="364.20" y2="307.40" stroke="#2a2a2a" stroke-width="0.9" />
<line x1="315.45" y1="322.80" x2="364.20" y2="322.80" stroke="#2a2a2a" stroke-width="0.9" />
<circle cx="359.10" cy="307.40" r="1.7" fill="#111"/>
<circle cx="359.10" cy="322.80" r="1.7" fill="#111"/>
<polygon points="364.0,307.4 367.0,307.4 365.5,310.4" fill="none" stroke="#2a2a2a" stroke-width="0.7"/>
<polygon points="364.0,322.8 367.0,322.8 365.5,320.0" fill="none" stroke="#2a2a2a" stroke-width="0.7"/>
<line x1="363.60" y1="315.40" x2="382.20" y2="315.40" stroke="#2a2a2a" stroke-width="0.9" />
<line x1="385.30" y1="315.40" x2="428.00" y2="315.40" stroke="#2a2a2a" stroke-width="0.9" />
<circle cx="383.70" cy="315.40" r="1.6" fill="#fff" stroke="#2a2a2a" stroke-width="0.8"/>
<circle cx="389.50" cy="315.40" r="1.7" fill="#111"/>
<circle cx="428.00" cy="315.40" r="1.7" fill="#111"/>
<text x="353.60" y="305.60" font-size="7.6" text-anchor="start" fill="#161616" stroke-width="0.000" textLength="2.80" lengthAdjust="spacingAndGlyphs" >2</text>
<text x="353.60" y="321.00" font-size="7.6" text-anchor="start" fill="#161616" stroke-width="0.000" textLength="2.80" lengthAdjust="spacingAndGlyphs" >3</text>
<text x="393.60" y="313.80" font-size="7.6" text-anchor="start" fill="#161616" stroke-width="0.000" textLength="2.80" lengthAdjust="spacingAndGlyphs" >1</text>
<text x="368.20" y="303.40" font-size="10.9" text-anchor="start" fill="#161616" stroke-width="0.028" textLength="15.20" lengthAdjust="spacingAndGlyphs" >SA2</text>
<rect x="359.0" y="339.5" width="30.9" height="54.4" fill="none" stroke="#2a2a2a" stroke-width="0.9" stroke-dasharray="4.4 1.8"/>
<line x1="315.45" y1="344.20" x2="363.70" y2="344.20" stroke="#2a2a2a" stroke-width="0.9" />
<line x1="315.45" y1="374.50" x2="363.70" y2="374.50" stroke="#2a2a2a" stroke-width="0.9" />
<line x1="359.00" y1="344.20" x2="363.70" y2="344.20" stroke="#2a2a2a" stroke-width="0.9" />
<circle cx="359.00" cy="344.20" r="1.7" fill="#111"/>
<circle cx="365.30" cy="344.20" r="1.6" fill="#fff" stroke="#2a2a2a" stroke-width="0.8"/>
<line x1="359.00" y1="359.60" x2="363.70" y2="359.60" stroke="#2a2a2a" stroke-width="0.9" />
<circle cx="359.00" cy="359.60" r="1.7" fill="#111"/>
<circle cx="365.30" cy="359.60" r="1.6" fill="#fff" stroke="#2a2a2a" stroke-width="0.8"/>
<line x1="359.00" y1="374.50" x2="363.70" y2="374.50" stroke="#2a2a2a" stroke-width="0.9" />
<circle cx="359.00" cy="374.50" r="1.7" fill="#111"/>
<circle cx="365.30" cy="374.50" r="1.6" fill="#fff" stroke="#2a2a2a" stroke-width="0.8"/>
<line x1="359.00" y1="389.70" x2="363.70" y2="389.70" stroke="#2a2a2a" stroke-width="0.9" />
<circle cx="359.00" cy="389.70" r="1.7" fill="#111"/>
<circle cx="365.30" cy="389.70" r="1.6" fill="#fff" stroke="#2a2a2a" stroke-width="0.8"/>
<line x1="366.70" y1="359.05" x2="382.40" y2="352.60" stroke="#2a2a2a" stroke-width="0.9" />
<circle cx="383.90" cy="352.00" r="1.6" fill="#fff" stroke="#2a2a2a" stroke-width="0.8"/>
<line x1="385.50" y1="352.00" x2="389.90" y2="352.00" stroke="#2a2a2a" stroke-width="0.9" />
<circle cx="389.90" cy="352.00" r="1.7" fill="#111"/>
<line x1="366.70" y1="389.15" x2="382.40" y2="382.60" stroke="#2a2a2a" stroke-width="0.9" />
<circle cx="383.90" cy="382.00" r="1.6" fill="#fff" stroke="#2a2a2a" stroke-width="0.8"/>
<line x1="385.50" y1="382.00" x2="389.90" y2="382.00" stroke="#2a2a2a" stroke-width="0.9" />
<circle cx="389.90" cy="382.00" r="1.7" fill="#111"/>
<line x1="389.90" y1="352.00" x2="428.00" y2="352.00" stroke="#2a2a2a" stroke-width="0.9" />
<circle cx="428.00" cy="352.00" r="1.7" fill="#111"/>
<line x1="372.60" y1="356.40" x2="372.60" y2="383.60" stroke="#444" stroke-width="0.7" stroke-dasharray="1.0 1.5"/>
<line x1="374.80" y1="356.40" x2="374.80" y2="383.60" stroke="#444" stroke-width="0.7" stroke-dasharray="1.0 1.5"/>
<line x1="377.00" y1="356.40" x2="377.00" y2="383.60" stroke="#444" stroke-width="0.7" stroke-dasharray="1.0 1.5"/>
<text x="353.40" y="342.40" font-size="7.6" text-anchor="start" fill="#161616" stroke-width="0.000" textLength="2.80" lengthAdjust="spacingAndGlyphs" >2</text>
<text x="353.00" y="358.00" font-size="7.6" text-anchor="start" fill="#161616" stroke-width="0.000" textLength="2.80" lengthAdjust="spacingAndGlyphs" >3</text>
<text x="353.40" y="372.80" font-size="7.6" text-anchor="start" fill="#161616" stroke-width="0.000" textLength="2.80" lengthAdjust="spacingAndGlyphs" >2</text>
<text x="353.00" y="388.40" font-size="7.6" text-anchor="start" fill="#161616" stroke-width="0.000" textLength="2.80" lengthAdjust="spacingAndGlyphs" >3</text>
<text x="393.60" y="350.40" font-size="7.6" text-anchor="start" fill="#161616" stroke-width="0.000" textLength="2.80" lengthAdjust="spacingAndGlyphs" >1</text>
<text x="393.60" y="380.40" font-size="7.6" text-anchor="start" fill="#161616" stroke-width="0.000" textLength="2.80" lengthAdjust="spacingAndGlyphs" >1</text>
<text x="367.00" y="337.00" font-size="10.9" text-anchor="start" fill="#161616" stroke-width="0.028" textLength="15.60" lengthAdjust="spacingAndGlyphs" >SA3</text>
<rect x="374.3" y="429.4" width="35.5" height="76.85" fill="none" stroke="#2a2a2a" stroke-width="0.9"/>
<polyline points="315.45,421.50 392.70,421.50 392.70,429.40" fill="none" stroke="#2a2a2a" stroke-width="0.9" />
<line x1="315.45" y1="452.40" x2="374.30" y2="452.40" stroke="#2a2a2a" stroke-width="0.9" />
<line x1="315.45" y1="467.50" x2="374.30" y2="467.50" stroke="#2a2a2a" stroke-width="0.9" />
<line x1="315.45" y1="483.00" x2="374.30" y2="483.00" stroke="#2a2a2a" stroke-width="0.9" />
<line x1="315.45" y1="498.30" x2="374.30" y2="498.30" stroke="#2a2a2a" stroke-width="0.9" />
<line x1="315.45" y1="513.75" x2="392.70" y2="513.75" stroke="#2a2a2a" stroke-width="0.9" />
<line x1="346.45" y1="421.50" x2="346.45" y2="483.00" stroke="#2a2a2a" stroke-width="0.9" />
<polyline points="346.45,498.30 346.45,532.00 359.30,532.00" fill="none" stroke="#2a2a2a" stroke-width="0.9" />
<polyline points="381.00,532.00 392.70,532.00 392.70,506.25" fill="none" stroke="#2a2a2a" stroke-width="0.9" />
<rect x="359.3" y="527.5" width="21.7" height="9.2" fill="#fefefe" stroke="#2a2a2a" stroke-width="0.9"/>
<polyline points="346.45,451.00 347.95,452.40 346.45,453.80" fill="none" stroke="#2a2a2a" stroke-width="0.8" />
<polyline points="346.45,466.10 347.95,467.50 346.45,468.90" fill="none" stroke="#2a2a2a" stroke-width="0.8" />
<polyline points="346.45,512.35 347.95,513.75 346.45,515.15" fill="none" stroke="#2a2a2a" stroke-width="0.8" />
<circle cx="346.45" cy="421.50" r="1.7" fill="#111"/>
<circle cx="346.45" cy="483.00" r="1.7" fill="#111"/>
<circle cx="346.45" cy="498.30" r="1.7" fill="#111"/>
<circle cx="392.70" cy="429.40" r="1.7" fill="#111"/>
<circle cx="374.30" cy="437.00" r="1.7" fill="#111"/>
<circle cx="374.30" cy="452.40" r="1.7" fill="#111"/>
<circle cx="374.30" cy="467.50" r="1.7" fill="#111"/>
<circle cx="374.30" cy="483.00" r="1.7" fill="#111"/>
<circle cx="374.30" cy="498.30" r="1.7" fill="#111"/>
<circle cx="392.70" cy="506.25" r="1.7" fill="#111"/>
<circle cx="392.70" cy="513.75" r="1.7" fill="#111"/>
<text x="395.00" y="427.80" font-size="5.0" text-anchor="start" fill="#161616" stroke-width="0.000" textLength="2.00" lengthAdjust="spacingAndGlyphs" >1</text>
<text x="369.00" y="436.00" font-size="5.0" text-anchor="start" fill="#161616" stroke-width="0.000" textLength="2.00" lengthAdjust="spacingAndGlyphs" >3</text>
<text x="369.00" y="451.00" font-size="5.0" text-anchor="start" fill="#161616" stroke-width="0.000" textLength="2.00" lengthAdjust="spacingAndGlyphs" >4</text>
<text x="369.00" y="466.30" font-size="5.0" text-anchor="start" fill="#161616" stroke-width="0.000" textLength="2.00" lengthAdjust="spacingAndGlyphs" >5</text>
<text x="369.00" y="481.60" font-size="5.0" text-anchor="start" fill="#161616" stroke-width="0.000" textLength="2.00" lengthAdjust="spacingAndGlyphs" >6</text>
<text x="369.00" y="496.60" font-size="5.0" text-anchor="start" fill="#161616" stroke-width="0.000" textLength="2.00" lengthAdjust="spacingAndGlyphs" >7</text>
<text x="394.40" y="512.00" font-size="5.0" text-anchor="start" fill="#161616" stroke-width="0.000" textLength="2.00" lengthAdjust="spacingAndGlyphs" >2</text>
<text x="405.80" y="425.50" font-size="10.9" text-anchor="start" fill="#161616" stroke-width="0.028" textLength="15.00" lengthAdjust="spacingAndGlyphs" >SA4</text>
<text x="382.90" y="472.70" font-size="11.6" text-anchor="start" fill="#161616" stroke-width="0.066" textLength="18.80" lengthAdjust="spacingAndGlyphs" >КУ–С</text>
<text x="366.60" y="525.70" font-size="10.4" text-anchor="start" fill="#161616" stroke-width="0.000" textLength="9.70" lengthAdjust="spacingAndGlyphs" >R1</text>
<text x="435.20" y="75.50" font-size="10.0" text-anchor="start" fill="#161616" stroke-width="0.000" textLength="47.10" lengthAdjust="spacingAndGlyphs" >"РЕЖИМ КБО"</text>
<text x="435.10" y="133.30" font-size="10.0" text-anchor="start" fill="#161616" stroke-width="0.000" textLength="79.00" lengthAdjust="spacingAndGlyphs" >"АВТ СТАРТ. ТОРМОЗ"</text>
<text x="435.00" y="157.60" font-size="10.0" text-anchor="start" fill="#161616" stroke-width="0.000" textLength="102.00" lengthAdjust="spacingAndGlyphs" >"ПРИВЕДЕНИЕ В ГОРИЗОНТУ"</text>
<text x="434.90" y="183.30" font-size="10.0" text-anchor="start" fill="#161616" stroke-width="0.000" textLength="41.60" lengthAdjust="spacingAndGlyphs" >"ОТКЛ САУ"</text>
<text x="434.90" y="204.60" font-size="10.0" text-anchor="start" fill="#161616" stroke-width="0.000" textLength="23.80" lengthAdjust="spacingAndGlyphs" >"ННПУ"</text>
<text x="434.70" y="260.00" font-size="10.0" text-anchor="start" fill="#161616" stroke-width="0.000" textLength="27.80" lengthAdjust="spacingAndGlyphs" >"СБРОС"</text>
<text x="434.60" y="289.30" font-size="10.0" text-anchor="start" fill="#161616" stroke-width="0.000" textLength="48.30" lengthAdjust="spacingAndGlyphs" >"ГАШЕТКА–М"</text>
<text x="434.50" y="319.30" font-size="10.0" text-anchor="start" fill="#161616" stroke-width="0.000" textLength="34.60" lengthAdjust="spacingAndGlyphs" >"МАНЕВР"</text>
<text x="433.20" y="371.30" font-size="10.0" text-anchor="start" fill="#161616" stroke-width="0.000" textLength="38.30" lengthAdjust="spacingAndGlyphs" >"ГАШЕТКА"</text>
<text x="419.10" y="473.30" font-size="10.0" text-anchor="start" fill="#161616" stroke-width="0.000" textLength="87.10" lengthAdjust="spacingAndGlyphs" >"УПРАВЛЕНИЕ СТРОБОМ"</text>
</g>
<g transform="skewY(0.215)">
<line x1="2.20" y1="647.00" x2="668.50" y2="647.00" stroke="#555" stroke-width="0.9" />
<line x1="2.20" y1="673.60" x2="668.50" y2="673.60" stroke="#555" stroke-width="0.9" />
<line x1="2.20" y1="699.70" x2="668.50" y2="699.70" stroke="#555" stroke-width="0.9" />
<line x1="2.20" y1="725.80" x2="668.50" y2="725.80" stroke="#555" stroke-width="0.9" />
<line x1="2.20" y1="752.60" x2="668.50" y2="752.60" stroke="#555" stroke-width="0.9" />
<line x1="2.20" y1="778.90" x2="668.50" y2="778.90" stroke="#555" stroke-width="0.9" />
<line x1="2.20" y1="805.50" x2="668.50" y2="805.50" stroke="#555" stroke-width="0.9" />
<line x1="2.20" y1="832.00" x2="668.50" y2="832.00" stroke="#555" stroke-width="0.9" />
<line x1="2.20" y1="858.20" x2="668.50" y2="858.20" stroke="#555" stroke-width="0.9" />
<line x1="2.20" y1="885.00" x2="668.50" y2="885.00" stroke="#555" stroke-width="0.9" />
<line x1="2.20" y1="911.40" x2="668.50" y2="911.40" stroke="#555" stroke-width="0.9" />
<line x1="2.20" y1="938.00" x2="668.50" y2="938.00" stroke="#555" stroke-width="0.9" />
<rect x="2.2" y="572.0" width="666.30" height="392.50" fill="none" stroke="#111" stroke-width="1.5"/>
<line x1="2.20" y1="620.50" x2="668.50" y2="620.50" stroke="#111" stroke-width="1.5" />
<line x1="72.50" y1="572.00" x2="72.50" y2="964.50" stroke="#111" stroke-width="1.4" />
<line x1="470.60" y1="572.00" x2="470.60" y2="964.50" stroke="#111" stroke-width="1.4" />
<line x1="506.60" y1="572.00" x2="506.60" y2="964.50" stroke="#111" stroke-width="1.4" />
<text x="28.50" y="592.00" font-size="12.0" text-anchor="start" fill="#444" stroke-width="0.088" textLength="17.80" lengthAdjust="spacingAndGlyphs" >Поз.</text>
<text x="8.80" y="601.20" font-size="10.4" text-anchor="start" fill="#444" stroke-width="0.000" textLength="58.40" lengthAdjust="spacingAndGlyphs" >обозначение</text>
<text x="194.00" y="602.20" font-size="16.4" text-anchor="start" fill="#161616" stroke-width="0.300" textLength="97.50" lengthAdjust="spacingAndGlyphs" >Наименование</text>
<text x="476.00" y="598.90" font-size="13.4" text-anchor="start" fill="#161616" stroke-width="0.165" textLength="23.50" lengthAdjust="spacingAndGlyphs" >Кол.</text>
<text x="546.00" y="600.80" font-size="17.0" text-anchor="start" fill="#161616" stroke-width="0.300" textLength="85.00" lengthAdjust="spacingAndGlyphs" >Примечание</text>
<text x="27.50" y="669.60" font-size="15.6" text-anchor="start" fill="#161616" stroke-width="0.286" textLength="16.50" lengthAdjust="spacingAndGlyphs" >R1</text>
<text x="80.00" y="669.60" font-size="15.6" text-anchor="start" fill="#161616" stroke-width="0.286" textLength="307.00" lengthAdjust="spacingAndGlyphs" >Резистор С2–23–0,125 Вт 10 кОм ОЖО.468.051 ТУ</text>
<text x="487.00" y="669.30" font-size="15.6" text-anchor="start" fill="#161616" stroke-width="0.286" textLength="5.00" lengthAdjust="spacingAndGlyphs" >1</text>
<text x="25.00" y="723.00" font-size="15.6" text-anchor="start" fill="#161616" stroke-width="0.286" textLength="22.50" lengthAdjust="spacingAndGlyphs" >SA1</text>
<text x="80.00" y="723.00" font-size="15.6" text-anchor="start" fill="#161616" stroke-width="0.286" textLength="252.50" lengthAdjust="spacingAndGlyphs" >Переключатель четырёхпозиционный 4П–С</text>
<text x="487.00" y="722.70" font-size="15.6" text-anchor="start" fill="#161616" stroke-width="0.286" textLength="5.00" lengthAdjust="spacingAndGlyphs" >1</text>
<text x="25.00" y="749.50" font-size="15.6" text-anchor="start" fill="#161616" stroke-width="0.286" textLength="22.50" lengthAdjust="spacingAndGlyphs" >SA2</text>
<text x="80.00" y="749.50" font-size="15.6" text-anchor="start" fill="#161616" stroke-width="0.286" textLength="138.50" lengthAdjust="spacingAndGlyphs" >Переключатель ПСЗ–М</text>
<text x="487.00" y="749.20" font-size="15.6" text-anchor="start" fill="#161616" stroke-width="0.286" textLength="5.00" lengthAdjust="spacingAndGlyphs" >1</text>
<text x="25.00" y="775.50" font-size="15.6" text-anchor="start" fill="#161616" stroke-width="0.286" textLength="22.50" lengthAdjust="spacingAndGlyphs" >SA3</text>
<text x="80.00" y="775.50" font-size="15.6" text-anchor="start" fill="#161616" stroke-width="0.286" textLength="161.00" lengthAdjust="spacingAndGlyphs" >Гашетка ВГИП.475352.241</text>
<text x="487.00" y="775.20" font-size="15.6" text-anchor="start" fill="#161616" stroke-width="0.286" textLength="5.00" lengthAdjust="spacingAndGlyphs" >1</text>
<text x="26.00" y="800.80" font-size="15.6" text-anchor="start" fill="#161616" stroke-width="0.286" textLength="22.50" lengthAdjust="spacingAndGlyphs" >SA4</text>
<text x="80.00" y="800.80" font-size="15.6" text-anchor="start" fill="#161616" stroke-width="0.286" textLength="90.00" lengthAdjust="spacingAndGlyphs" >Кнюппель КУ–С</text>
<text x="487.00" y="800.50" font-size="15.6" text-anchor="start" fill="#161616" stroke-width="0.286" textLength="5.00" lengthAdjust="spacingAndGlyphs" >1</text>
<text x="9.00" y="853.80" font-size="15.6" text-anchor="start" fill="#161616" stroke-width="0.286" textLength="58.50" lengthAdjust="spacingAndGlyphs" >SB1 – SB5</text>
<text x="80.00" y="853.80" font-size="15.6" text-anchor="start" fill="#161616" stroke-width="0.286" textLength="136.00" lengthAdjust="spacingAndGlyphs" >Кнопка нажимная КНМ</text>
<text x="485.50" y="853.50" font-size="15.6" text-anchor="start" fill="#161616" stroke-width="0.286" textLength="7.50" lengthAdjust="spacingAndGlyphs" >5</text>
<text x="27.50" y="880.50" font-size="15.6" text-anchor="start" fill="#161616" stroke-width="0.286" textLength="21.00" lengthAdjust="spacingAndGlyphs" >SB6</text>
<text x="82.50" y="880.50" font-size="15.6" text-anchor="start" fill="#161616" stroke-width="0.286" textLength="175.00" lengthAdjust="spacingAndGlyphs" >Гашетка–М ВГИП.304571.007</text>
<text x="487.00" y="880.20" font-size="15.6" text-anchor="start" fill="#161616" stroke-width="0.286" textLength="5.00" lengthAdjust="spacingAndGlyphs" >1</text>
<text x="29.00" y="933.50" font-size="15.6" text-anchor="start" fill="#161616" stroke-width="0.286" textLength="16.00" lengthAdjust="spacingAndGlyphs" >X1</text>
<text x="80.00" y="933.50" font-size="15.6" text-anchor="start" fill="#161616" stroke-width="0.286" textLength="260.00" lengthAdjust="spacingAndGlyphs" >Вилка СНЦ23–32/27В–2–В  ГЕО.364.241ТУ</text>
<text x="487.00" y="933.20" font-size="15.6" text-anchor="start" fill="#161616" stroke-width="0.286" textLength="5.00" lengthAdjust="spacingAndGlyphs" >1</text>
</g>
</svg></body></html>
